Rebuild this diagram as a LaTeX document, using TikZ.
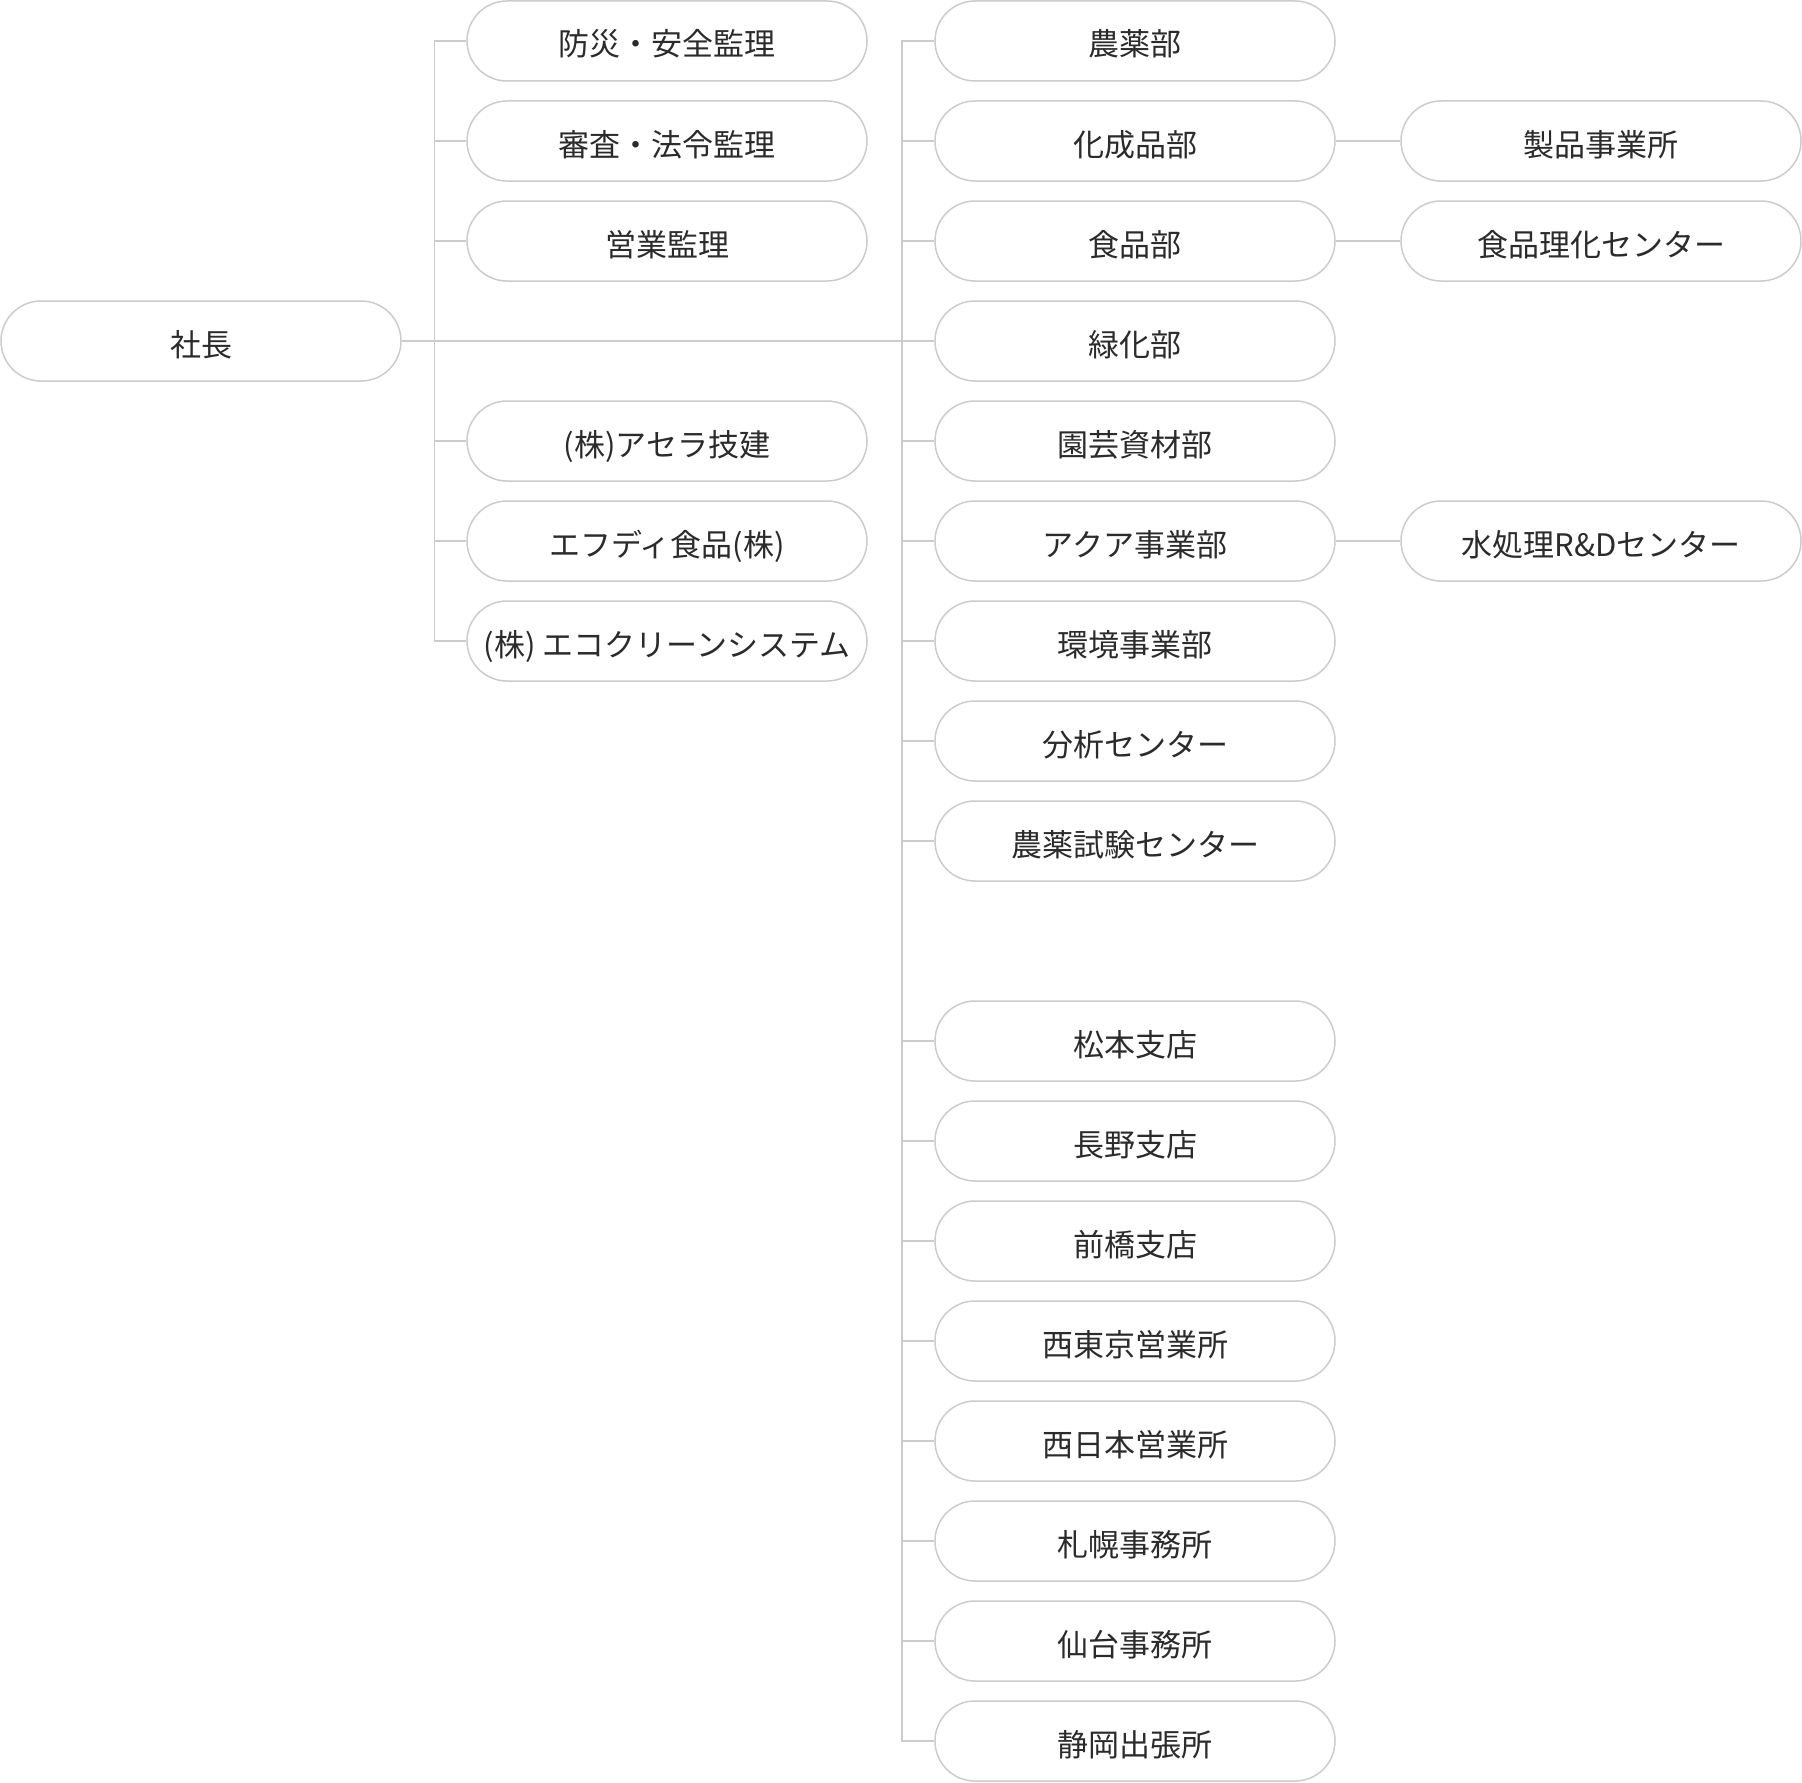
\documentclass[tikz,border=0pt]{standalone}
\usepackage{fontspec}
\setmainfont{Noto Sans CJK JP}
\usetikzlibrary{positioning}
\definecolor{linegray}{HTML}{CCCCCC}
\definecolor{textgray}{HTML}{2B2B2B}
\tikzset{
  node-u/.style={draw=linegray,rectangle,rounded corners=20pt,minimum width=200pt,minimum height=40pt,inner sep=0pt,text height=15.5pt,text depth=0.5pt,line width=0.75pt,text=textgray,font=\fontsize{15.5}{18}\selectfont},
  link/.style={draw=linegray,line width=0.75pt},
}
\begin{document}
\begin{tikzpicture}[x=0.5pt,y=0.5pt]
  \useasboundingbox (0,0) rectangle (1802,-1782);

  % TOP
  \node[node-u] (ceo)  at (201, -341)   {社長};

  % LEFT: kansa og kogaisha
  \node[node-u] (a1)   at (667, -41)    {防災・安全監理};
  \node[node-u] (a2)   at (667, -141)   {審査・法令監理};
  \node[node-u] (a3)   at (667, -241)   {営業監理};
  \node[node-u] (a5)   at (667, -441)   {(株)アセラ技建};
  \node[node-u] (a6)   at (667, -541)   {エフディ食品(株)};
  \node[node-u] (a7)   at (667, -641)   {(株) エコクリーンシステム};

  % MIDDLE: bumon
  \node[node-u] (m1)   at (1135, -41)   {農薬部};
  \node[node-u] (m2)   at (1135, -141)  {化成品部};
  \node[node-u] (m3)   at (1135, -241)  {食品部};
  \node[node-u] (m4)   at (1135, -341)  {緑化部};
  \node[node-u] (m5)   at (1135, -441)  {園芸資材部};
  \node[node-u] (m6)   at (1135, -541)  {アクア事業部};
  \node[node-u] (m7)   at (1135, -641)  {環境事業部};
  \node[node-u] (m8)   at (1135, -741)  {分析センター};
  \node[node-u] (m9)   at (1135, -841)  {農薬試験センター};

  % MIDDLE: shiten og eigyosho
  \node[node-u] (m10)  at (1135, -1041) {松本支店};
  \node[node-u] (m11)  at (1135, -1141) {長野支店};
  \node[node-u] (m12)  at (1135, -1241) {前橋支店};
  \node[node-u] (m13)  at (1135, -1341) {西東京営業所};
  \node[node-u] (m14)  at (1135, -1441) {西日本営業所};
  \node[node-u] (m15)  at (1135, -1541) {札幌事務所};
  \node[node-u] (m16)  at (1135, -1641) {仙台事務所};
  \node[node-u] (m17)  at (1135, -1741) {静岡出張所};

  % RIGHT
  \node[node-u] (r2)   at (1601, -141)  {製品事業所};
  \node[node-u] (r3)   at (1601, -241)  {食品理化センター};
  \node[node-u] (r6)   at (1601, -541)  {水処理R\&Dセンター};

  % bus lines
  \coordinate (lbus) at (434.5, -341);
  \coordinate (mbus) at (902, -341);
  \draw[link] (ceo) -- (m4);
  \draw[link] (a1.west) -- (a1.west -| lbus) -- (a7.west -| lbus) -- (a7.west);
  \draw[link] (a2.west) -- (a2.west -| lbus);
  \draw[link] (a3.west) -- (a3.west -| lbus);
  \draw[link] (a5.west) -- (a5.west -| lbus);
  \draw[link] (a6.west) -- (a6.west -| lbus);
  \draw[link] (m1.west) -- (m1.west -| mbus) -- (m17.west -| mbus) -- (m17.west);
  \foreach \k in {2,3,5,6,7,8,9,10,11,12,13,14,15,16}
    \draw[link] (m\k.west) -- (m\k.west -| mbus);

  % sub-units
  \draw[link] (m2) -- (r2);
  \draw[link] (m3) -- (r3);
  \draw[link] (m6) -- (r6);

\end{tikzpicture}
\end{document}
